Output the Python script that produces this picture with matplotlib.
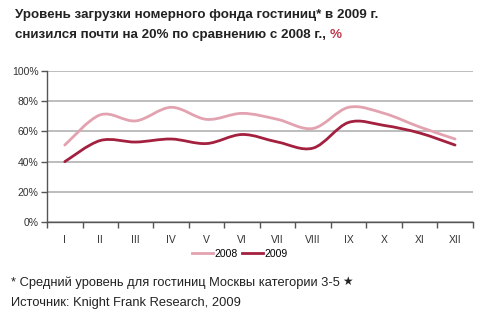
import matplotlib
matplotlib.use("Agg")
import matplotlib.pyplot as plt
import numpy as np
from matplotlib.path import Path
from matplotlib.patches import PathPatch
from matplotlib.lines import Line2D
from matplotlib.ticker import FixedLocator, FuncFormatter

months = ["I", "II", "III", "IV", "V", "VI", "VII", "VIII", "IX", "X", "XI", "XII"]
occ_2008 = [51, 71, 67, 76, 68, 72, 68, 62, 76, 72, 63, 55]
occ_2009 = [40, 54, 53, 55, 52, 58, 53, 49, 66, 64, 59, 51]
y_ticks = [0, 20, 40, 60, 80, 100]

plt.rcParams['font.family'] = ['Liberation Sans', 'DejaVu Sans']

fig = plt.figure(figsize=(4.8, 3.29), dpi=100)
ax = fig.add_axes([0.098, 0.325, 0.887, 0.459])

def smooth_path(xs, ys):
    xs = np.asarray(xs, float); ys = np.asarray(ys, float)
    verts = [(xs[0], ys[0])]
    codes = [Path.MOVETO]
    n = len(xs)
    t = 1 / 6
    for i in range(n - 1):
        p0 = (xs[max(i - 1, 0)], ys[max(i - 1, 0)])
        p1 = (xs[i], ys[i])
        p2 = (xs[i + 1], ys[i + 1])
        p3 = (xs[min(i + 2, n - 1)], ys[min(i + 2, n - 1)])
        c1 = (p1[0] + (p2[0] - p0[0]) * t, p1[1] + (p2[1] - p0[1]) * t)
        c2 = (p2[0] - (p3[0] - p1[0]) * t, p2[1] - (p3[1] - p1[1]) * t)
        verts += [c1, c2, p2]
        codes += [Path.CURVE4] * 3
    return Path(verts, codes)

x = np.arange(len(months))
c2008 = "#e3a2b0"
c2009 = "#a3203f"
handles = []
for ys, c in [(occ_2008, c2008), (occ_2009, c2009)]:
    ax.add_patch(PathPatch(smooth_path(x, ys), facecolor="none", edgecolor=c,
                           lw=2.0, capstyle="round", zorder=3))
    handles.append(Line2D([], [], color=c, lw=2.0))

ax.set_xlim(-0.5, len(months) - 0.5)
ax.set_ylim(0, 100)
ax.yaxis.set_major_locator(FixedLocator(y_ticks))
ax.yaxis.set_major_formatter(FuncFormatter(lambda v, p: f"{int(v)}%"))
ax.set_xticks(x)
ax.set_xticklabels(months)
ax.set_xticks(np.arange(-0.5, len(months)), minor=True)
ax.tick_params(axis="x", which="major", length=0, pad=9, labelsize=7.5, colors="#333333")
ax.tick_params(axis="x", which="minor", length=4, width=1, color="#555555", direction="out")
ax.tick_params(axis="y", length=4, width=1, color="#555555", labelsize=7.5, pad=2, labelcolor="#333333")

ax.grid(axis="y", color="#b8b8b8", lw=1.3)
ax.set_axisbelow(True)
for s in ["top", "right"]:
    ax.spines[s].set_visible(False)
for s in ["left", "bottom"]:
    ax.spines[s].set_color("#555555")
    ax.spines[s].set_linewidth(1.0)

fig.legend(handles, ["2008", "2009"], loc="center", bbox_to_anchor=(0.5, 0.228), ncol=2,
           frameon=False, fontsize=7.5, handlelength=2.0, handletextpad=0.15,
           columnspacing=0.4)

fig.text(0.031, 0.955, "Уровень загрузки номерного фонда гостиниц* в 2009 г.",
         fontsize=9.6, fontweight="bold", color="#222222", va="center")
t = fig.text(0.031, 0.895, "снизился почти на 20% по сравнению с 2008 г., ",
             fontsize=9.6, fontweight="bold", color="#222222", va="center")
fig.canvas.draw()
bb = t.get_window_extent()
fig.text(bb.x1 / fig.bbox.width, 0.895, "%", fontsize=9.6, fontweight="bold",
         color="#c0394f", va="center")

fn = fig.text(0.023, 0.14, "* Средний уровень для гостиниц Москвы категории 3-5", fontsize=9.3,
              color="#222222", va="center")
fig.canvas.draw()
bb2 = fn.get_window_extent()
fig.text(bb2.x1 / fig.bbox.width + 0.004, 0.143, "★", fontsize=8.5, color="#222222",
         va="center", family=["DejaVu Sans"])
fig.text(0.023, 0.078, "Источник: Knight Frank Research, 2009", fontsize=9.3,
         color="#222222", va="center")

fig.savefig("out.png", dpi=100)
